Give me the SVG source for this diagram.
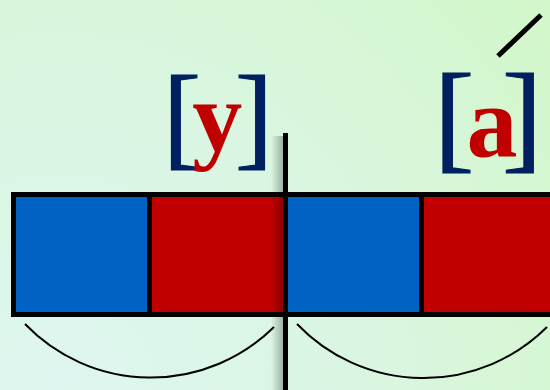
<svg xmlns="http://www.w3.org/2000/svg" width="550" height="390" viewBox="0 0 550 390">
  <defs>
    <radialGradient id="bg" cx="60" cy="390" r="600" gradientUnits="userSpaceOnUse">
      <stop offset="0" stop-color="#dff6f0"/>
      <stop offset="0.5" stop-color="#daf6e2"/>
      <stop offset="1" stop-color="#d3f7cb"/>
    </radialGradient>
    <linearGradient id="shadow" x1="0" y1="0" x2="1" y2="0">
      <stop offset="0" stop-color="#000" stop-opacity="0"/>
      <stop offset="1" stop-color="#000" stop-opacity="0.3"/>
    </linearGradient>
    <style>
      text { font-family: "Liberation Serif", "Times New Roman", serif; }
      .br { fill: #002060; stroke: #002060; stroke-width: 1.2; }
      .lt { font-weight: bold; fill: #c00000; }
      .cell { stroke: #000; stroke-width: 5; }
      .blue { fill: #0062c2; }
      .red { fill: #c00000; }
      .arc { fill: none; stroke: #000; stroke-width: 2; }
    </style>
  </defs>
  <rect width="550" height="390" fill="url(#bg)"/>

  <g id="label-y">
    <text><tspan class="br" x="163" y="155" font-size="114">[</tspan><tspan class="lt" x="192.3" y="151" font-size="100">y</tspan><tspan class="br" x="235" y="155" font-size="114">]</tspan></text>
  </g>
  <g id="label-a">
    <text><tspan class="br" x="434" y="157" font-size="121">[</tspan><tspan class="lt" x="466.5" y="156" font-size="102">a</tspan><tspan class="br" x="502" y="157" font-size="121">]</tspan></text>
  </g>

  <g id="bar">
    <rect id="cell1" class="cell blue" x="13.5" y="194.5" width="136" height="120"/>
    <rect id="cell2" class="cell red" x="149.5" y="194.5" width="136" height="120"/>
    <rect id="cell3" class="cell blue" x="285.5" y="194.5" width="136" height="120"/>
    <rect id="cell4" class="cell red" x="421.5" y="194.5" width="140" height="120"/>
  </g>

  <g id="connectors">
    <rect x="271" y="136" width="13" height="254" fill="url(#shadow)"/>
    <line x1="285.5" y1="133" x2="285.5" y2="390" stroke="#000" stroke-width="5"/>
    <line x1="498" y1="56" x2="541" y2="15" stroke="#000" stroke-width="5"/>
    <path class="arc" d="M25 324 A175 175 0 0 0 274 327"/>
    <path class="arc" d="M297 324 A175 175 0 0 0 547 327"/>
  </g>
</svg>
